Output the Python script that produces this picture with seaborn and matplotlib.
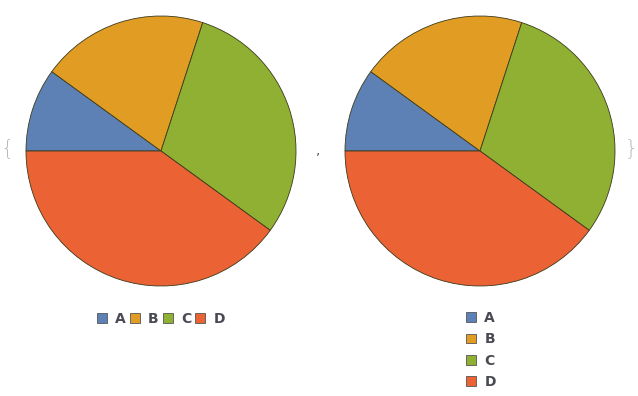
import matplotlib
matplotlib.use("Agg")
import matplotlib.pyplot as plt
import matplotlib.patches as mpatches
import seaborn as sns

# data
labels = ["A", "B", "C", "D"]
values = [1, 2, 3, 4]
colors = ["#5E81B5", "#E19C24", "#8FB032", "#EB6235"]

sns.set_style("white")
palette = sns.color_palette(colors)
plt.rcParams['font.family'] = ['DejaVu Sans']

W, H = 638, 396
fig = plt.figure(figsize=(W / 100, H / 100), dpi=100)


def draw_pie(cx, cy, r):
    ax = fig.add_axes([(cx - r) / W, (H - cy - r) / H, 2 * r / W, 2 * r / H])
    ax.pie(values, colors=palette, startangle=180, counterclock=False,
           wedgeprops=dict(edgecolor="#3a3a1a", linewidth=0.6))
    ax.set_xlim(-1, 1)
    ax.set_ylim(-1, 1)
    ax.set_aspect("equal")
    ax.axis("off")
    return ax


ax1 = draw_pie(161, 151, 135)
ax2 = draw_pie(480, 151, 135)

handles = [mpatches.Patch(facecolor=c, edgecolor="#555555", linewidth=0.6, label=l)
           for c, l in zip(palette, labels)]
text_kw = dict(size=10, weight="bold")

leg1 = fig.legend(handles=handles, ncol=4, loc="center", bbox_to_anchor=(161 / W, 1 - 319 / H),
                  frameon=False, prop=text_kw, handlelength=0.7, handleheight=0.7,
                  handletextpad=0.6, columnspacing=0.3)
for t in leg1.get_texts():
    t.set_color("#4a4a55")

leg2 = fig.legend(handles=handles, ncol=1, loc="center", bbox_to_anchor=(481 / W, 1 - 350 / H),
                  frameon=False, prop=text_kw, handlelength=0.7, handleheight=0.7,
                  handletextpad=0.6, labelspacing=0.52)
for t in leg2.get_texts():
    t.set_color("#4a4a55")

# list braces
brace_kw = dict(color="#b8b8b8", size=15, ha="center", va="center", weight="light")
fig.text(7 / W, 1 - 148 / H, "{", **brace_kw)
fig.text(318 / W, 1 - 150 / H, ",", color="#555555", size=10, ha="center", va="center")
fig.text(631 / W, 1 - 148 / H, "}", **brace_kw)

fig.savefig("out.png", dpi=100)
